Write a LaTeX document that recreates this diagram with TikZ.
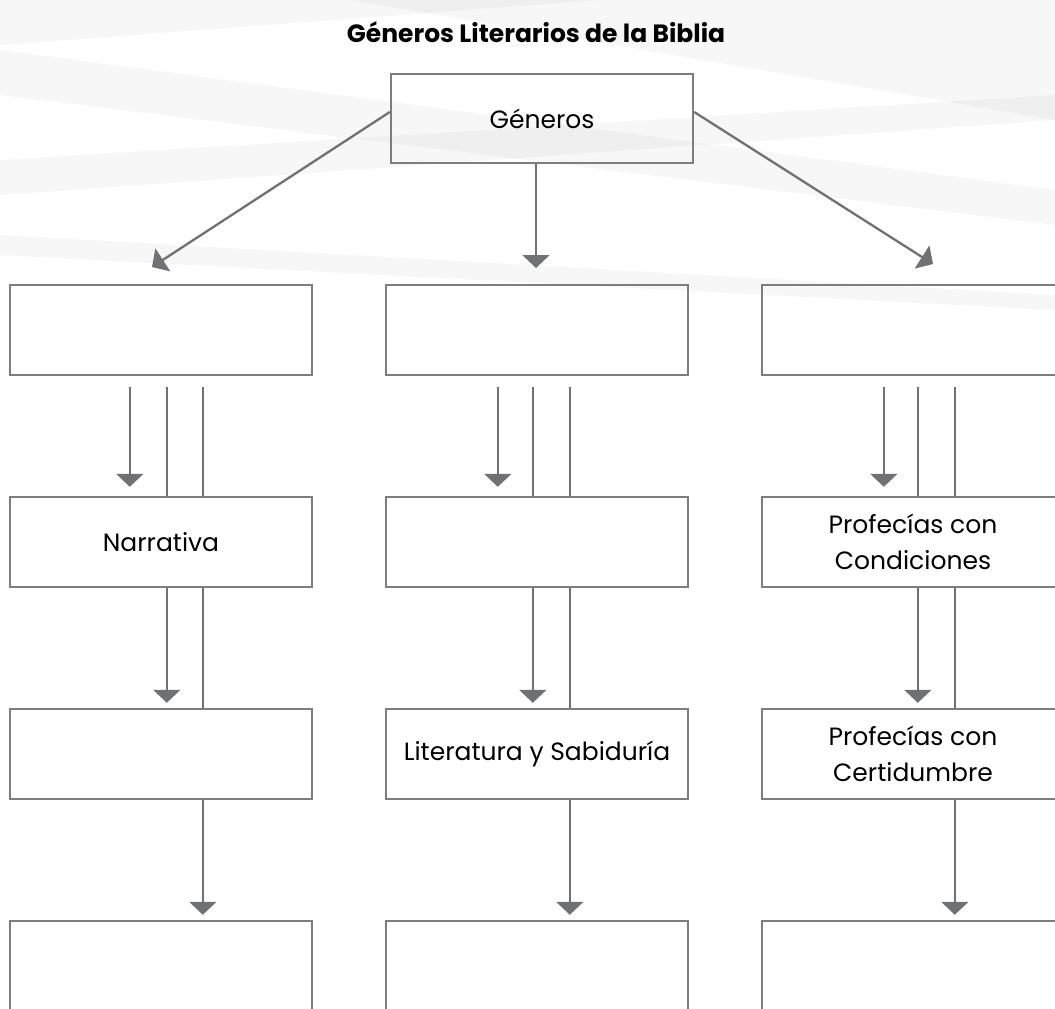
\documentclass[tikz,border=0pt]{standalone}
\usepackage{fontspec}
\setmainfont{Poppins}
\usetikzlibrary{arrows.meta,calc}
\definecolor{linegray}{RGB}{112,113,116}
\definecolor{boxgray}{RGB}{125,126,129}
\begin{document}
\begin{tikzpicture}[x=1pt,y=-1pt,
  box/.style={draw=boxgray,line width=2.4pt,minimum width=302pt,minimum height=90pt,inner sep=0pt,align=center,font=\fontsize{25}{36}\selectfont,text=black},
  conn/.style={draw=linegray,line width=2.3pt},
  arr/.style={conn,-{Triangle[width=27pt,length=13pt]}},
  streak/.style={fill=black,opacity=0.03,draw=none}]
\useasboundingbox (0,0) rectangle (1055,1009);
\clip (0,0) rectangle (1055,1009);
\fill[white] (0,0) rectangle (1055,1009);
% background streaks
\fill[streak] (350,0) -- (1055,0) -- (1055,120) -- cycle;
\fill[streak] (0,50) -- (1055,190) -- (1055,225) -- (0,95) -- cycle;
\fill[streak] (0,160) -- (1055,95) -- (1055,120) -- (0,195) -- cycle;
\fill[streak] (0,235) -- (1055,295) -- (1055,310) -- (0,255) -- cycle;
\fill[streak] (0,0) -- (600,0) -- (0,45) -- cycle;

\node[font=\bfseries\fontsize{25}{30}\selectfont] (title) at (536,32) {Géneros Literarios de la Biblia};

\node[box,minimum height=89pt] (gen) at (542,118.5) {Géneros};

\node[box] (l1) at (161,330) {};
\node[box] (m1) at (537,330) {};
\node[box] (r1) at (913,330) {};

\node[box] (l2) at (161,542) {Narrativa};
\node[box] (m2) at (537,542) {};
\node[box] (r2) at (913,542) {Profecías con\\Condiciones};

\node[box] (l3) at (161,754) {};
\node[box] (m3) at (537,754) {Literatura y Sabiduría};
\node[box] (r3) at (913,754) {Profecías con\\Certidumbre};

\node[box] (l4) at (161,966) {};
\node[box] (m4) at (537,966) {};
\node[box] (r4) at (913,966) {};

% top connectors
\coordinate (tl) at (152,267);
\coordinate (tm) at (536,268);
\coordinate (tr) at (933,264);
\draw[arr] ([yshift=6.5pt]gen.west) -- (tl);
\draw[arr] (gen.south -| tm) -- (tm);
\draw[arr] ([yshift=6.5pt]gen.east) -- (tr);

% row1 -> row2
\foreach \b/\c/\o/\p/\q in {l1/l2/121/158/194, m1/m2/113/148/185, r1/r2/123/157/194}{
  \draw[arr] ([xshift=\o pt,yshift=-11pt]\b.south west) -- ([xshift=\o pt,yshift=9pt]\c.north west);
  \draw[conn] ([xshift=\p pt,yshift=-11pt]\b.south west) -- ([xshift=\p pt]\c.north west);
  \draw[conn] ([xshift=\q pt,yshift=-11pt]\b.south west) -- ([xshift=\q pt]\c.north west);
}
% row2 -> row3
\foreach \b/\c/\p/\q in {l2/l3/158/194, m2/m3/148/185, r2/r3/157/194}{
  \draw[arr] ([xshift=\p pt]\b.south west) -- ([xshift=\p pt,yshift=5pt]\c.north west);
  \draw[conn] ([xshift=\q pt]\b.south west) -- ([xshift=\q pt]\c.north west);
}
% row3 -> row4
\foreach \b/\c/\q in {l3/l4/194, m3/m4/185, r3/r4/194}{
  \draw[arr] ([xshift=\q pt]\b.south west) -- ([xshift=\q pt,yshift=5pt]\c.north west);
}
\end{tikzpicture}
\end{document}
